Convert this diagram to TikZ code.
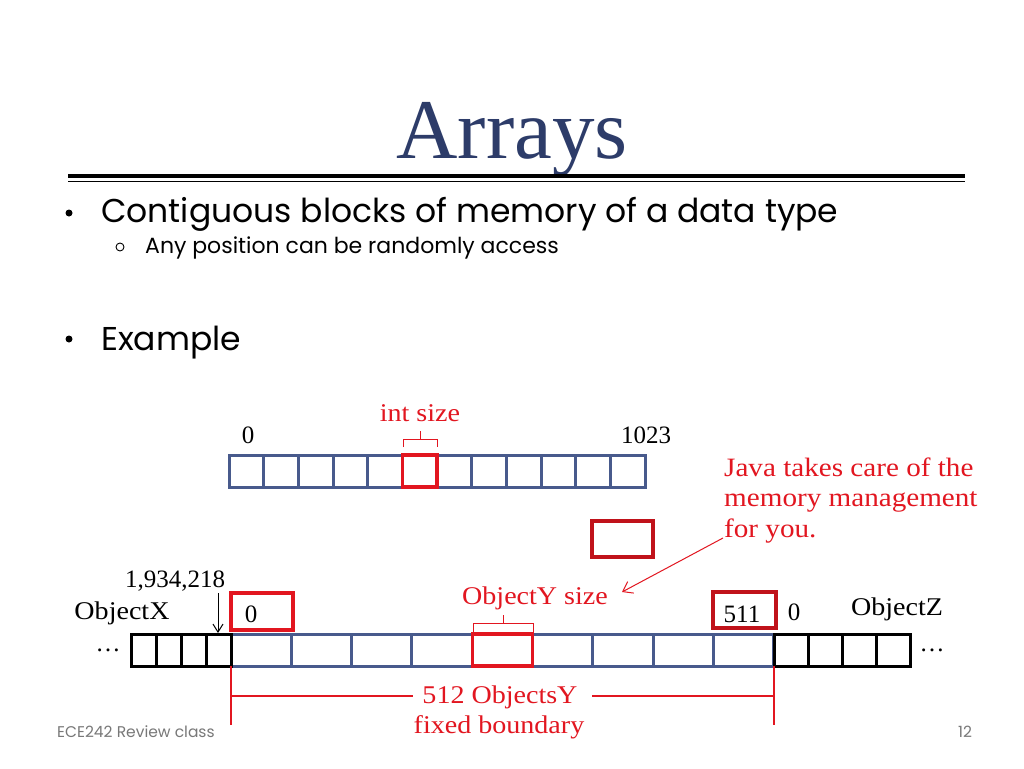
\documentclass[tikz,border=0pt]{standalone}
\usepackage{fontspec}
\setmainfont{Liberation Serif}
\newfontfamily\wideserif[FakeStretch=1.1]{Liberation Serif}
\newfontfamily\gothic{Poppins}
\usetikzlibrary{arrows.meta}
\definecolor{cellblue}{RGB}{72,90,140}
\definecolor{redA}{RGB}{226,22,32}
\definecolor{redB}{RGB}{192,18,26}
\definecolor{titleblue}{RGB}{45,60,105}
\definecolor{footgray}{RGB}{120,120,120}
\tikzset{
  bluecell/.style={draw=cellblue, line width=3pt},
  blackcell/.style={draw=black, line width=3pt},
  redcell/.style={draw=redA, line width=3.5pt},
  redbox/.style={draw=redB, line width=3.5pt},
  redthin/.style={draw=redA, line width=1pt},
  redline/.style={draw=redA, line width=1.6pt},
  lbl/.style={inner sep=0pt, anchor=base, font=\fontsize{25}{30}\selectfont},
  wlbl/.style={inner sep=0pt, anchor=base, font=\wideserif\fontsize{25.5}{30}\selectfont},
  redlbl/.style={wlbl, text=redA},
  bodytxt/.style={inner sep=0pt, anchor=base west, font=\gothic\fontsize{33}{40}\selectfont},
  subtxt/.style={inner sep=0pt, anchor=base west, font=\gothic\fontsize{22}{26}\selectfont},
  foot/.style={inner sep=0pt, anchor=base west, text=footgray, font=\gothic\fontsize{15.5}{18}\selectfont},
}
\begin{document}
\begin{tikzpicture}[x=1pt,y=-1pt]
\useasboundingbox[fill=white] (0,0) rectangle (1024,768);

% title
\node[inner sep=0pt, anchor=base, text=titleblue, font=\fontsize{85}{90}\selectfont] (title) at (512,158) {Arrays};
\draw[line width=4pt] (68,176) -- (965,176);
\draw[line width=1pt] (68,181) -- (965,181);

% bullets
\fill (69,213) circle (3.5);
\node[bodytxt] (b1) at (101,222) {Contiguous blocks of memory of a data type};
\draw[line width=0.9pt] (120,247) circle (4);
\node[subtxt] (b2) at (145,253) {Any position can be randomly access};
\fill (69,339) circle (3.5);
\node[bodytxt] (b3) at (101,350) {Example};

% top array
\foreach \i in {0,...,11} {
  \draw[bluecell] ({229+\i*34.67},455) rectangle ({229+(\i+1)*34.67},487);
}
\draw[redcell] (402.35,455) rectangle (437,487);
\draw[redthin] (403,447) -- (403,439) -- (437,439) -- (437,447);
\draw[redthin] (420,439) -- (420,431);
\node[redlbl] (intsize) at (420,421) {int size};
\node[lbl] (t0) at (248,443) {0};
\node[lbl] (t1023) at (646,443) {1023};

% free red box
\draw[redbox] (592,521) rectangle (653,557);

% Java note
\tikzset{javalbl/.style={redlbl, anchor=base west, font=\wideserif\fontsize{26.5}{30}\selectfont}}
\node[javalbl] (java1) at (724,476) {Java takes care of the};
\node[javalbl] (java2) at (724,506) {memory management};
\node[javalbl] (java3) at (724,537) {for you.};
\coordinate (jstart) at (723,538);
\coordinate (jtip) at (622,592);
\draw[redthin, -{Straight Barb[length=9pt,width=13pt]}] (jstart) -- (jtip);

% bottom array
\foreach \i in {0,...,8} {
  \draw[bluecell] ({231+\i*60.33},634) rectangle ({231+(\i+1)*60.33},666);
}
\foreach \i in {0,...,3} {
  \draw[blackcell] ({131+\i*25},634) rectangle ({131+(\i+1)*25},666);
  \draw[blackcell] ({774+\i*34},634) rectangle ({774+(\i+1)*34},666);
}
\draw[redcell] (472.3,634) rectangle (532.7,666);

\node[lbl] (ldots) at (108,651) {\dots};
\node[lbl] (rdots) at (932,651) {\dots};

% index boxes
\draw[draw=redA, line width=3.5pt] (231,593) rectangle (293,630);
\node[lbl] (b0) at (251,622) {0};
\draw[redbox] (713,592) rectangle (776,628);
\node[lbl] (b511) at (742,622) {511};
\node[lbl] (z0) at (794,620) {0};
\node[wlbl] (objz) at (897,615) {ObjectZ};
\node[wlbl] (objx) at (122,619) {ObjectX};
\node[lbl] (addr) at (175,587) {1,934,218};
\coordinate (astart) at (218,593);
\coordinate (aend) at (218,633);
\draw[line width=1pt, -{Straight Barb[length=8pt,width=10pt]}] (astart) -- (aend);

% ObjectY size bracket
\node[redlbl] (ysize) at (535,604) {ObjectY size};
\draw[redthin] (473,633) -- (473,623) -- (533,623) -- (533,633);
\draw[redthin] (503,623) -- (503,615);

% boundary
\draw[redline] (231,666) -- (231,725);
\draw[redline] (774,666) -- (774,725);
\node[redlbl] (bnd1) at (500,703) {512 ObjectsY};
\node[redlbl] (bnd2) at (499,733) {fixed boundary};
\coordinate (hl) at (231,696);
\coordinate (hr) at (774,696);
\draw[redline] (hl) -- (413,696);
\draw[redline] (592,696) -- (hr);

% footer
\node[foot] (footl) at (57,737) {ECE242 Review class};
\node[foot] (footr) at (958,737) {12};
\end{tikzpicture}
\end{document}
